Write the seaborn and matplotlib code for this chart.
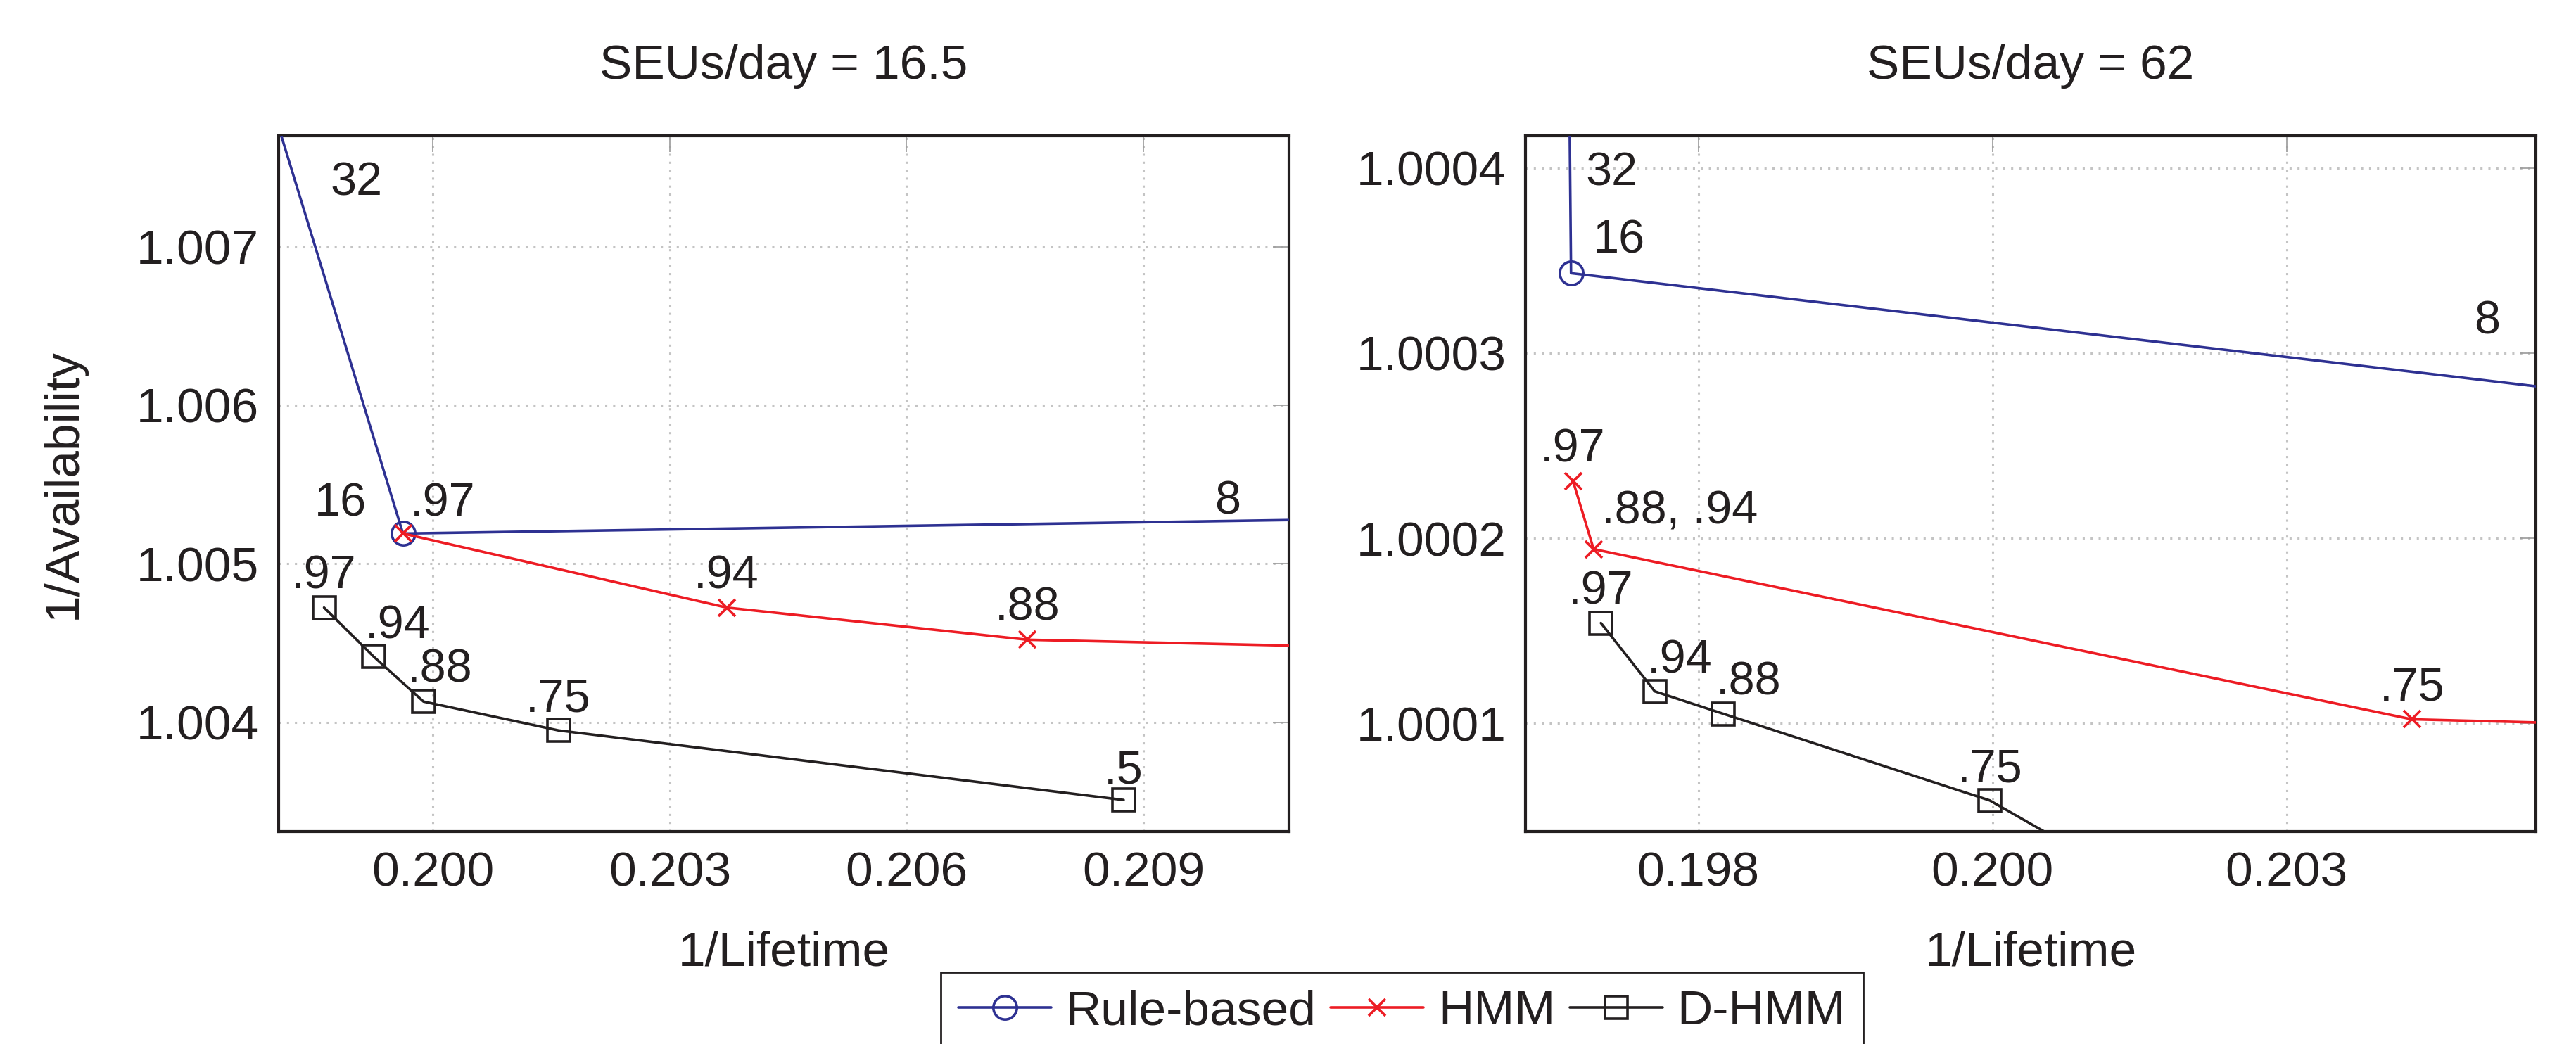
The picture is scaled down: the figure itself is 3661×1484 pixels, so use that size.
import matplotlib
matplotlib.use("Agg")
import matplotlib.pyplot as plt
from matplotlib.lines import Line2D
import seaborn as sns
import pandas as pd

# Valeurs : x = 1/Lifetime, y = 1/Availability
# Les points hors cadre (32, 8, dernier seuil) sont estimés à partir de la pente des segments.

# --- SEUs/day = 16.5
rule_16_x = [0.19790, 0.19962, 0.21150]
rule_16_y = [1.00799, 1.00519, 1.00528]
rule_16_lab = ["32", "16", "8"]

hmm_16_x = [0.19962, 0.20372, 0.20753, 0.21250]
hmm_16_y = [1.00519, 1.004723, 1.004520, 1.004465]
hmm_16_lab = [".97", ".94", ".88", None]

dhmm_16_x = [0.19862, 0.19925, 0.19988, 0.20159, 0.20875]
dhmm_16_y = [1.004723, 1.004413, 1.004130, 1.003948, 1.003509]
dhmm_16_lab = [".97", ".94", ".88", ".75", ".5"]

# --- SEUs/day = 62
rule_62_x = [0.196401, 0.196418, 0.20500]
rule_62_y = [1.0004600, 1.0003431, 1.0002792]
rule_62_lab = ["32", "16", "8"]

hmm_62_x = [0.196435, 0.196610, 0.203565, 0.20600]
hmm_62_y = [1.0002309, 1.0001941, 1.0001022, 1.0000983]
hmm_62_lab = [".97", ".88, .94", ".75", None]

dhmm_62_x = [0.196672, 0.197130, 0.197712, 0.199977, 0.20100]
dhmm_62_y = [1.0001542, 1.0001173, 1.0001052, 1.0000584, 1.0000213]
dhmm_62_lab = [".97", ".94", ".88", ".75", None]

titles = ["SEUs/day = 16.5", "SEUs/day = 62"]
methods = ["Rule-based", "HMM", "D-HMM"]

xticks_16 = [0.200, 0.203, 0.206, 0.209]
xtick_labels_16 = ["0.200", "0.203", "0.206", "0.209"]
yticks_16 = [1.004, 1.005, 1.006, 1.007]
ytick_labels_16 = ["1.004", "1.005", "1.006", "1.007"]

xticks_62 = [0.1975, 0.2000, 0.2025]
xtick_labels_62 = ["0.198", "0.200", "0.203"]
yticks_62 = [1.0001, 1.0002, 1.0003, 1.0004]
ytick_labels_62 = ["1.0001", "1.0002", "1.0003", "1.0004"]

# --- Mise en forme
COLORS = {"Rule-based": "#2e3192", "HMM": "#ed1c24", "D-HMM": "#231f20"}
MARKERS = {"Rule-based": "o", "HMM": "x", "D-HMM": "s"}
MSIZE = {"Rule-based": 12, "HMM": 8.5, "D-HMM": 11.5}

# décalage des étiquettes (en points) par rapport au point
offsets_16 = {
    "Rule-based": [(45.5, -48), (-32, 15.2), (-58, 9)],
    "HMM": [(20.5, 15.2), (0, 16), (0, 16), None],
    "D-HMM": [(0, 16), (12.4, 15.6), (8.4, 16), (0, 15.6), (0, 14.7)],
}
offsets_62 = {
    "Rule-based": [(21.7, -59.7), (24.5, 16.4), (-47.9, 35.8)],
    "HMM": [(0, 16), (44.2, 19.2), (0, 16), None],
    "D-HMM": [(0, 16), (12.9, 15.7), (12.9, 16), (0, 15.7), None],
}

sns.set_style("white")
plt.rcParams["font.family"] = ["Liberation Sans", "DejaVu Sans"]
plt.rcParams["axes.edgecolor"] = "#231f20"

fig = plt.figure(figsize=(18.31, 7.42), dpi=200)
ax1 = fig.add_axes([0.10814, 0.20350, 0.39214, 0.66644])
ax2 = fig.add_axes([0.59203, 0.20350, 0.39214, 0.66644])


def draw_panel(ax, series, offsets, xlim, ylim, xticks, xlabels, yticks, ylabels, title):
    for name in methods:
        xs, ys, labs = series[name]
        df = pd.DataFrame({"x": xs, "y": ys})
        sns.lineplot(data=df, x="x", y="y", ax=ax, estimator=None, sort=False,
                     legend=False, color=COLORS[name], marker=MARKERS[name],
                     ms=MSIZE[name], mfc="none", mec=COLORS[name], mew=1.3,
                     lw=1.3, zorder=3)
        for x, y, lab, off in zip(xs, ys, labs, offsets[name]):
            if lab is None:
                continue
            ax.annotate(lab, (x, y), xytext=off, textcoords="offset points",
                        ha="center", va="center", fontsize=24, color="#231f20",
                        annotation_clip=False, zorder=4)

    ax.set_xlim(*xlim)
    ax.set_ylim(*ylim)
    ax.set_xticks(xticks)
    ax.set_xticklabels(xlabels)
    ax.set_yticks(yticks)
    ax.set_yticklabels(ylabels)
    ax.grid(True, color="#c4c4c4", lw=1.1, ls=(0, (1, 2.7)))
    ax.set_axisbelow(True)
    ax.tick_params(direction="in", length=8.3, width=0.6, color="#9a9a9a",
                   top=True, right=True, labelsize=25, pad=10,
                   labelcolor="#231f20")
    for s in ax.spines.values():
        s.set_linewidth(1.5)
        s.set_color("#231f20")
    ax.set_title(title, fontsize=25, pad=29, color="#231f20")
    ax.set_xlabel("1/Lifetime", fontsize=25, labelpad=17.5, color="#231f20")
    ax.set_ylabel("")


series_16 = {
    "Rule-based": (rule_16_x, rule_16_y, rule_16_lab),
    "HMM": (hmm_16_x, hmm_16_y, hmm_16_lab),
    "D-HMM": (dhmm_16_x, dhmm_16_y, dhmm_16_lab),
}
series_62 = {
    "Rule-based": (rule_62_x, rule_62_y, rule_62_lab),
    "HMM": (hmm_62_x, hmm_62_y, hmm_62_lab),
    "D-HMM": (dhmm_62_x, dhmm_62_y, dhmm_62_lab),
}

draw_panel(ax1, series_16, offsets_16, (0.198045, 0.210846), (1.003310, 1.007699),
           xticks_16, xtick_labels_16, yticks_16, ytick_labels_16, titles[0])
draw_panel(ax2, series_62, offsets_62, (0.196031, 0.204619), (1.0000416, 1.0004173),
           xticks_62, xtick_labels_62, yticks_62, ytick_labels_62, titles[1])

ax1.set_ylabel("1/Availability", fontsize=25, labelpad=26, color="#231f20")

# Légende commune sous les deux graphiques
handles = [Line2D([], [], color=COLORS[m], marker=MARKERS[m], ms=MSIZE[m],
                  mfc="none", mec=COLORS[m], mew=1.3, lw=1.3) for m in methods]
leg = fig.legend(handles, methods, loc="upper center", bbox_to_anchor=(0.5441, 0.0687),
                 ncol=3, frameon=True, fancybox=False, edgecolor="#231f20",
                 framealpha=1, fontsize=25, handlelength=1.9, handletextpad=0.3,
                 columnspacing=0.3, borderpad=0.35, borderaxespad=0)
leg.get_frame().set_linewidth(1.0)
for t in leg.get_texts():
    t.set_color("#231f20")

fig.savefig("out.png", dpi=200)
